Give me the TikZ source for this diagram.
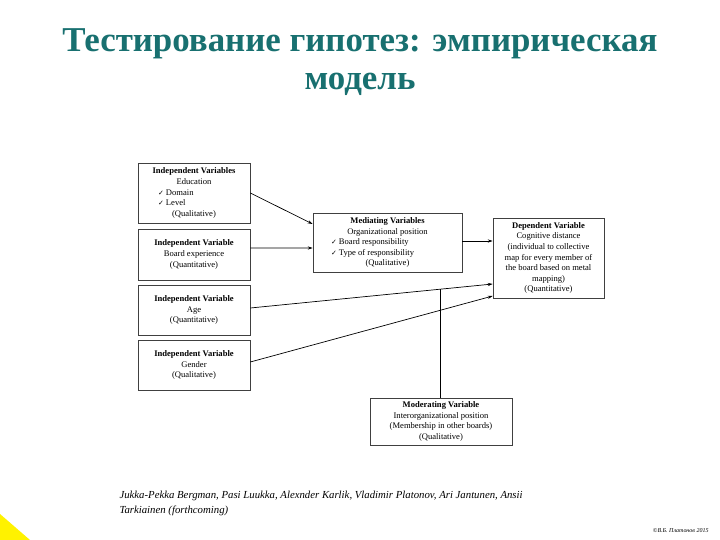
\documentclass[tikz,border=0pt]{standalone}
\usepackage{fontspec}
\setmainfont{Liberation Serif}
\newfontfamily\ckfont{DejaVu Sans}
\usetikzlibrary{arrows.meta,calc}
\definecolor{titleteal}{RGB}{24,112,112}
\newcommand{\ck}{{\ckfont\fontsize{7}{8}\selectfont ✓}}
\begin{document}
\begin{tikzpicture}[x=1bp,y=-1bp,
  box/.style={draw=black!75, line width=0.6bp, inner sep=0pt, align=center,
    font=\fontsize{8.6}{10.6}\selectfont},
  arr/.style={-{Stealth[length=5bp,width=3.2bp]}, line width=0.7bp},
  ttl/.style={text=titleteal, font=\bfseries\fontsize{35}{40}\selectfont}]
\useasboundingbox (0,0) rectangle (720,540);
\fill[white] (0,0) rectangle (720,540);
\fill[yellow] (0,514) -- (30,540) -- (0,540) -- cycle;

\node[ttl] (t1) at (360,44) {Тестирование гипотез: эмпирическая};
\node[ttl] (t2) at (360,84) {модель};

\node[box, minimum width=112bp, minimum height=60bp] (b1) at (194,193)
  {\textbf{Independent Variables}\\ Education\\
   \makebox[72bp][l]{\ck\ Domain}\\ \makebox[72bp][l]{\ck\ Level}\\ (Qualitative)};
\node[box, minimum width=112bp, minimum height=51bp] (b2) at (194,254.5)
  {\textbf{Independent Variable}\\ Board experience\\ (Quantitative)};
\node[box, minimum width=112bp, minimum height=50bp] (b3) at (194,310)
  {\textbf{Independent Variable}\\ Age\\ (Quantitative)};
\node[box, minimum width=112bp, minimum height=50bp] (b4) at (194,365)
  {\textbf{Independent Variable}\\ Gender\\ (Qualitative)};
\node[box, minimum width=149bp, minimum height=59bp] (med) at (387.5,242.5)
  {\textbf{Mediating Variables}\\ Organizational position\\
   \makebox[113bp][l]{\ck\ Board responsibility}\\
   \makebox[113bp][l]{\ck\ Type of responsibility}\\ (Qualitative)};
\node[box, minimum width=111bp, minimum height=80bp] (dep) at (548.5,258)
  {\textbf{Dependent Variable}\\ Cognitive distance\\ (individual to collective\\
   map for every member of\\ the board based on metal\\ mapping)\\ (Quantitative)};
\node[box, minimum width=142bp, minimum height=47bp] (mod) at (441,421.5)
  {\textbf{Moderating Variable}\\ Interorganizational position\\
   (Membership in other boards)\\ (Qualitative)};

\draw[arr] (b1.east) -- ($(med.west)+(0,-18.5)$);
\draw[arr] ($(b2.east)+(0,-6.5)$) -- ($(med.west)+(0,5.5)$);
\coordinate (a3s) at ($(b3.east)+(0,-2)$);
\coordinate (a3e) at ($(dep.west)+(0,26)$);
\draw[arr] (a3s) -- (a3e);
\draw[arr] ($(b4.east)+(0,-3)$) -- ($(dep.west)+(0,38)$);
\draw[arr] ($(med.east)+(0,-1.5)$) -- ($(dep.west)+(0,-17)$);
\coordinate (m) at ($(a3s)!0.782!(a3e)$);
\draw[line width=0.7bp] (m |- mod.north) -- (m);

\node[anchor=north west, align=left, font=\itshape\fontsize{10.8}{14.5}\selectfont] (cite) at (116,488)
  {Jukka-Pekka Bergman, Pasi Luukka, Alexnder Karlik, Vladimir Platonov, Ari Jantunen, Ansii\\
   Tarkiainen (forthcoming)};
\node[anchor=east, font=\itshape\fontsize{6}{7}\selectfont] (copy) at (712,531) {©В.Б. Платонов 2015};
\end{tikzpicture}
\end{document}
